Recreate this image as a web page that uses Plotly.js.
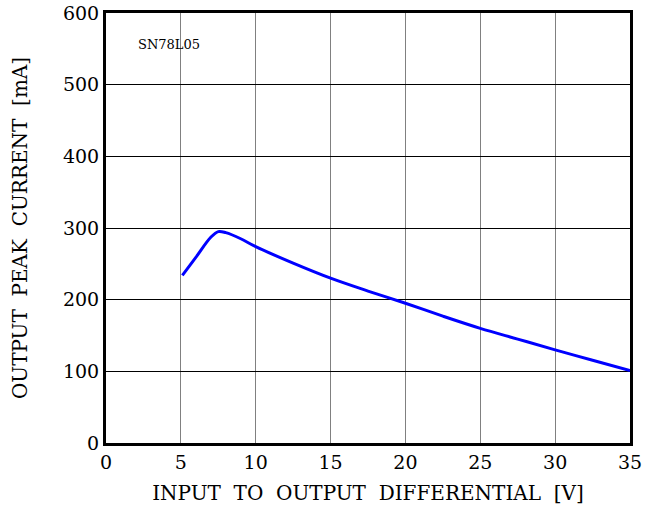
<!DOCTYPE html>
<html><head><meta charset="utf-8">
<script src="https://cdn.plot.ly/plotly-3.0.1.min.js"></script>
<style>body{margin:0;background:#fff}</style>
</head><body><div id="chart" style="width:653px;height:511px"></div>
<script>
const xVolts = [5.1, 6, 7, 7.5, 8, 9, 10, 12.5, 15, 17.5, 20, 22.5, 25, 27.5, 30, 32.5, 35];
const yCurrent = [234, 259, 287, 295, 293.5, 285, 274, 251, 230, 212, 195, 177, 160, 145, 130, 115.5, 101];
const xTicks = [0, 5, 10, 15, 20, 25, 30, 35];
const yTicks = [0, 100, 200, 300, 400, 500, 600];
const deviceLabel = "SN78L05";
const sp = "\u00a0 ";
const xTitle = ["INPUT", "TO", "OUTPUT", "DIFFERENTIAL", "[V]"].join(sp);
const yTitle = ["OUTPUT", "PEAK", "CURRENT", "[mA]"].join(sp);

const font = "DejaVu Serif, serif";
const trace = {x: xVolts, y: yCurrent, mode: "lines", line: {color: "#0000ff", width: 3, shape: "spline", smoothing: 1}, hoverinfo: "skip"};
const layout = {
  width: 653, height: 511,
  margin: {l: 106, r: 23, t: 13, b: 68},
  paper_bgcolor: "#fff", plot_bgcolor: "#fff",
  showlegend: false,
  font: {family: font, color: "#000", size: 19},
  xaxis: {range: [0, 35], tickvals: xTicks, ticks: "", showgrid: true, gridcolor: "#808080", gridwidth: 1,
    showline: true, mirror: true, linecolor: "#000", linewidth: 3, zeroline: false,
    tickfont: {size: 19, family: font},
    title: {text: xTitle, font: {size: 20, family: font}, standoff: 15}},
  yaxis: {range: [0, 600], tickvals: yTicks, ticks: "", showgrid: true, gridcolor: "#000", gridwidth: 1,
    showline: true, mirror: true, linecolor: "#000", linewidth: 3, zeroline: false,
    tickfont: {size: 19, family: font},
    title: {text: yTitle, font: {size: 20, family: font}, standoff: 30}},
  annotations: [{x: 0.058, y: 0.926, xref: "paper", yref: "paper", xanchor: "left", yanchor: "middle",
    text: deviceLabel, showarrow: false, font: {size: 13, family: font, color: "#000"}}]
};
Plotly.newPlot("chart", [trace], layout, {displayModeBar: false, staticPlot: true});
</script></body></html>
